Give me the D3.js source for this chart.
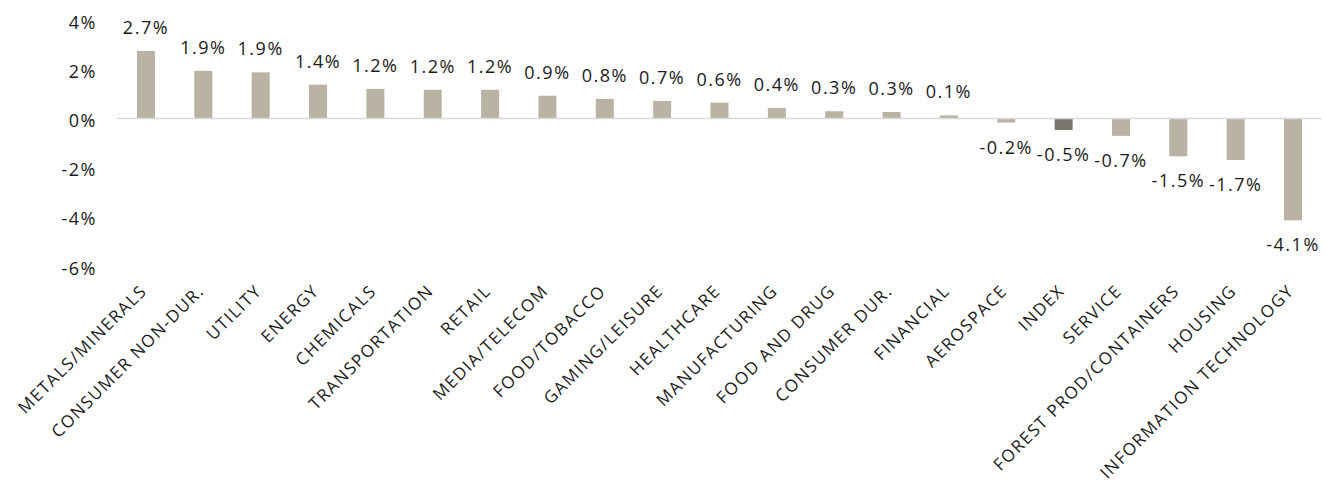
<!DOCTYPE html>
<html>
<head>
<meta charset="utf-8">
<script src="https://cdn.jsdelivr.net/npm/d3@7"></script>
<style>
  html, body { margin: 0; padding: 0; background: #fff; }
  svg { display: block; }
  text { font-family: "Open Sans", "Noto Sans", sans-serif; fill: #1a1a1a; }
</style>
</head>
<body>
<svg id="chart" width="1326" height="485"></svg>
<script>
const categories = [
  "METALS/MINERALS", "CONSUMER NON-DUR.", "UTILITY", "ENERGY", "CHEMICALS",
  "TRANSPORTATION", "RETAIL", "MEDIA/TELECOM", "FOOD/TOBACCO", "GAMING/LEISURE",
  "HEALTHCARE", "MANUFACTURING", "FOOD AND DRUG", "CONSUMER DUR.", "FINANCIAL",
  "AEROSPACE", "INDEX", "SERVICE", "FOREST PROD/CONTAINERS", "HOUSING",
  "INFORMATION TECHNOLOGY"
];
const values = [
  2.74, 1.93, 1.87, 1.37, 1.20,
  1.16, 1.16, 0.92, 0.79, 0.71,
  0.64, 0.42, 0.29, 0.26, 0.12,
  -0.17, -0.47, -0.71, -1.54, -1.69,
  -4.14
];
const highlight = ["INDEX"];
const yTicks = [-6, -4, -2, 0, 2, 4];

const svg = d3.select("#chart");

const x = d3.scaleBand()
  .domain(categories)
  .range([117.3, 1321.7])
  .paddingInner(0.686)
  .paddingOuter(0.343);

const y = d3.scaleLinear()
  .domain([-6, 4])
  .range([266.1, 19.9]);

// Y axis labels (no line)
const yAxis = d3.axisLeft(y)
  .tickValues(yTicks)
  .tickFormat(d => d + "%")
  .tickSize(0)
  .tickPadding(0);
const yg = svg.append("g")
  .attr("transform", "translate(97,0)")
  .call(yAxis);
yg.select(".domain").remove();
yg.selectAll("text")
  .attr("font-size", 18)
  .attr("letter-spacing", "1.5px")
  .attr("dy", "0.45em")
  .style("font-family", '"Open Sans", "Noto Sans", sans-serif')
  .style("fill", "#1a1a1a");

// Bars
svg.append("g").selectAll("rect")
  .data(categories)
  .join("rect")
  .attr("x", d => x(d))
  .attr("width", x.bandwidth())
  .attr("y", (d, i) => Math.min(y(values[i]), y(0)))
  .attr("height", (d, i) => Math.abs(y(values[i]) - y(0)))
  .attr("fill", d => highlight.includes(d) ? "#7b766e" : "#b9b3a3");

// Zero line
svg.append("line")
  .attr("x1", x.range()[0])
  .attr("x2", x.range()[1])
  .attr("y1", y(0))
  .attr("y2", y(0))
  .attr("stroke", "#d9d9d9")
  .attr("stroke-width", 1.5);

// Value labels
svg.append("g").selectAll("text")
  .data(categories)
  .join("text")
  .attr("x", d => x(d) + x.bandwidth() / 2)
  .attr("y", (d, i) => values[i] >= 0 ? y(values[i]) - 17 : y(values[i]) + 31)
  .attr("text-anchor", "middle")
  .attr("font-size", 18)
  .attr("letter-spacing", "1.5px")
  .text((d, i) => values[i].toFixed(1) + "%");

// Category labels (rotated)
const xAxis = d3.axisBottom(x).tickSize(0).tickPadding(0);
const xg = svg.append("g")
  .call(xAxis);
xg.select(".domain").remove();
xg.selectAll(".tick text")
  .attr("transform", "translate(2,292) rotate(-45)")
  .attr("y", 0)
  .attr("dy", 0)
  .attr("text-anchor", "end")
  .attr("font-size", 17)
  .attr("letter-spacing", "1.5px")
  .style("font-family", '"Open Sans", "Noto Sans", sans-serif')
  .style("fill", "#1a1a1a");
</script>
</body>
</html>
